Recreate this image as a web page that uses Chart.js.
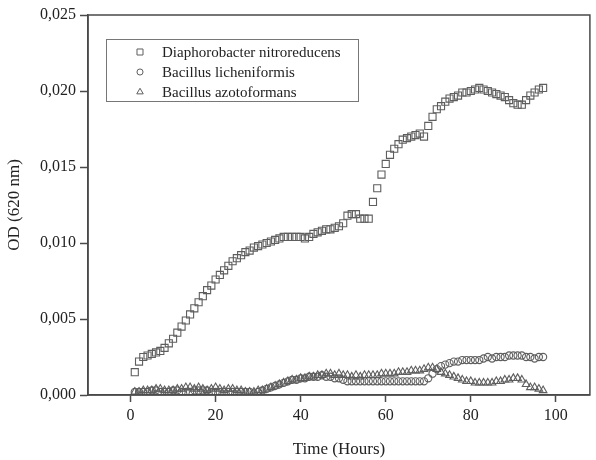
<!DOCTYPE html>
<html>
<head>
<meta charset="utf-8">
<title>OD growth curves</title>
<script src="https://cdn.jsdelivr.net/npm/chart.js@4.4.0/dist/chart.umd.min.js"></script>
<style>
  html, body { margin: 0; padding: 0; background: #fff; }
  #wrap { width: 596px; height: 460px; position: relative; }
</style>
</head>
<body>
<div id="wrap"><canvas id="growthChart" width="596" height="460"></canvas></div>
<script>
var hours = [1, 2, 3, 4, 5, 6, 7, 8, 9, 10, 11, 12, 13, 14, 15, 16, 17, 18, 19, 20,
  21, 22, 23, 24, 25, 26, 27, 28, 29, 30, 31, 32, 33, 34, 35, 36, 37, 38, 39, 40,
  41, 42, 43, 44, 45, 46, 47, 48, 49, 50, 51, 52, 53, 54, 55, 56, 57, 58, 59, 60,
  61, 62, 63, 64, 65, 66, 67, 68, 69, 70, 71, 72, 73, 74, 75, 76, 77, 78, 79, 80,
  81, 82, 83, 84, 85, 86, 87, 88, 89, 90, 91, 92, 93, 94, 95, 96, 97];

var diaphorobacter = [0.0015, 0.0022, 0.0025, 0.0026, 0.0027, 0.0028, 0.0029, 0.0031, 0.0034, 0.0037,
  0.0041, 0.0045, 0.0049, 0.0053, 0.0057, 0.0061, 0.0065, 0.0069, 0.0072, 0.0076,
  0.0079, 0.0082, 0.0085, 0.0088, 0.0090, 0.0092, 0.0094, 0.0095, 0.0097, 0.0098,
  0.0099, 0.0100, 0.0101, 0.0102, 0.0103, 0.0104, 0.0104, 0.0104, 0.0104, 0.0104,
  0.0103, 0.0104, 0.0106, 0.0107, 0.0108, 0.0109, 0.0109, 0.0110, 0.0111, 0.0113,
  0.0118, 0.0119, 0.0119, 0.0116, 0.0116, 0.0116, 0.0127, 0.0136, 0.0145, 0.0152,
  0.0158, 0.0162, 0.0165, 0.0168, 0.0169, 0.0170, 0.0171, 0.0172, 0.0170, 0.0177,
  0.0183, 0.0188, 0.0190, 0.0193, 0.0195, 0.0196, 0.0197, 0.0199, 0.0199, 0.0200,
  0.0201, 0.0202, 0.0201, 0.0200, 0.0199, 0.0198, 0.0197, 0.0196, 0.0194, 0.0192,
  0.0191, 0.0191, 0.0194, 0.0197, 0.0199, 0.0201, 0.0202];

var licheniformis = [0.0002, 0.0002, 0.0002, 0.0002, 0.0003, 0.0003, 0.0002, 0.0002, 0.0002, 0.0003,
  0.0003, 0.0002, 0.0002, 0.0002, 0.0003, 0.0003, 0.0003, 0.0003, 0.0002, 0.0002,
  0.0002, 0.0002, 0.0002, 0.0002, 0.0002, 0.0002, 0.0002, 0.0002, 0.0001, 0.0002,
  0.0003, 0.0004, 0.0005, 0.0006, 0.0007, 0.0008, 0.0009, 0.0010, 0.0010, 0.0011,
  0.0011, 0.0012, 0.0012, 0.0012, 0.0013, 0.0012, 0.0012, 0.0011, 0.0011, 0.0010,
  0.0009, 0.0009, 0.0009, 0.0009, 0.0009, 0.0009, 0.0009, 0.0009, 0.0009, 0.0009,
  0.0009, 0.0009, 0.0009, 0.0009, 0.0009, 0.0009, 0.0009, 0.0009, 0.0009, 0.0011,
  0.0014, 0.0017, 0.0019, 0.0020, 0.0021, 0.0022, 0.0022, 0.0023, 0.0023, 0.0023,
  0.0023, 0.0023, 0.0024, 0.0025, 0.0024, 0.0025, 0.0025, 0.0025, 0.0026, 0.0026,
  0.0026, 0.0026, 0.0025, 0.0025, 0.0024, 0.0025, 0.0025];

var azotoformans = [0.0002, 0.0002, 0.0003, 0.0003, 0.0003, 0.0004, 0.0004, 0.0003, 0.0003, 0.0003,
  0.0004, 0.0004, 0.0005, 0.0005, 0.0004, 0.0005, 0.0004, 0.0003, 0.0004, 0.0005,
  0.0004, 0.0003, 0.0004, 0.0004, 0.0003, 0.0003, 0.0002, 0.0002, 0.0002, 0.0003,
  0.0003, 0.0004, 0.0005, 0.0006, 0.0007, 0.0008, 0.0009, 0.0010, 0.0010, 0.0011,
  0.0011, 0.0012, 0.0012, 0.0013, 0.0013, 0.0014, 0.0014, 0.0013, 0.0014, 0.0013,
  0.0013, 0.0012, 0.0013, 0.0012, 0.0013, 0.0013, 0.0013, 0.0013, 0.0014, 0.0014,
  0.0014, 0.0014, 0.0015, 0.0015, 0.0015, 0.0016, 0.0016, 0.0016, 0.0017, 0.0018,
  0.0018, 0.0017, 0.0015, 0.0014, 0.0013, 0.0012, 0.0011, 0.0010, 0.0009, 0.0009,
  0.0008, 0.0008, 0.0008, 0.0008, 0.0008, 0.0009, 0.0009, 0.0010, 0.0010, 0.0011,
  0.0011, 0.0010, 0.0007, 0.0005, 0.0005, 0.0004, 0.0003];

var seriesNames = ["Diaphorobacter nitroreducens", "Bacillus licheniformis", "Bacillus azotoformans"];
var xTicks = [0, 20, 40, 60, 80, 100];
var yTicks = [0, 0.005, 0.010, 0.015, 0.020, 0.025];

var serif = "'Liberation Serif', 'DejaVu Serif', serif";
var markerColor = "#5e5e5e";
var axisColor = "#4a4a4a";

function toPoints(values) {
    var pts = [];
    for (var i = 0; i < hours.length; i++) {
        pts.push({ x: hours[i], y: values[i] });
    }
    return pts;
}

// frame round the plot + legend box inside the plot
var framePlugin = {
    id: "frameAndLegend",
    afterDraw: function (chart) {
        var ctx = chart.ctx;
        var a = chart.chartArea;
        ctx.save();
        ctx.strokeStyle = axisColor;
        ctx.lineWidth = 1.5;
        ctx.strokeRect(a.left, a.top, a.right - a.left, a.bottom - a.top);

        // legend
        ctx.strokeStyle = "#777";
        ctx.lineWidth = 1;
        ctx.strokeRect(106.5, 39.5, 252, 62);
        var rows = [52, 72, 92];
        var ds = chart.data.datasets;
        for (var i = 0; i < ds.length; i++) {
            ctx.fillStyle = "rgba(0,0,0,0)";
            ctx.strokeStyle = markerColor;
            ctx.lineWidth = 1;
            Chart.helpers.drawPoint(ctx, {
                pointStyle: ds[i].pointStyle,
                radius: ds[i].pointRadius * 0.85,
                rotation: 0,
                borderWidth: 1
            }, 140, rows[i]);
            ctx.fillStyle = "#222";
            ctx.font = "15px " + serif;
            ctx.textBaseline = "middle";
            ctx.textAlign = "left";
            ctx.fillText(ds[i].label, 162, rows[i] + 1);
        }
        ctx.restore();
    }
};

function makeDataset(label, values, style, radius) {
    return {
        label: label,
        data: toPoints(values),
        pointStyle: style,
        pointRadius: radius,
        pointBorderWidth: 1.1,
        pointBorderColor: markerColor,
        pointBackgroundColor: "rgba(255,255,255,0)",
        showLine: false
    };
}

var ctx = document.getElementById("growthChart").getContext("2d");
var chart = new Chart(ctx, {
    type: "scatter",
    data: {
        datasets: [
            makeDataset(seriesNames[0], diaphorobacter, "rect", 5),
            makeDataset(seriesNames[1], licheniformis, "circle", 3.6),
            makeDataset(seriesNames[2], azotoformans, "triangle", 4.4)
        ]
    },
    plugins: [framePlugin],
    options: {
        responsive: false,
        animation: false,
        layout: { padding: { top: 15, right: 2, left: 0, bottom: 0 } },
        plugins: {
            legend: { display: false },
            tooltip: { enabled: false }
        },
        scales: {
            x: {
                type: "linear",
                min: -10,
                max: 108,
                afterBuildTicks: function (axis) {
                    axis.ticks = xTicks.map(function (v) { return { value: v }; });
                },
                afterFit: function (axis) { axis.height = 65; },
                grid: {
                    drawOnChartArea: false,
                    drawTicks: true,
                    tickLength: 7,
                    tickWidth: 1.5,
                    tickColor: axisColor
                },
                border: { color: axisColor, width: 1.5 },
                ticks: {
                    color: "#222",
                    font: { family: serif, size: 16 },
                    padding: 4,
                    maxRotation: 0,
                    callback: function (v) { return v; }
                },
                title: {
                    display: true,
                    text: "Time (Hours)",
                    color: "#222",
                    font: { family: serif, size: 17 },
                    padding: { top: 0, bottom: 0 }
                }
            },
            y: {
                type: "linear",
                min: 0,
                max: 0.025,
                afterBuildTicks: function (axis) {
                    axis.ticks = yTicks.map(function (v) { return { value: v }; });
                },
                afterFit: function (axis) { axis.width = 88; },
                grid: {
                    drawOnChartArea: false,
                    drawTicks: true,
                    tickLength: 8,
                    tickWidth: 1.5,
                    tickColor: axisColor
                },
                border: { color: axisColor, width: 1.5 },
                ticks: {
                    color: "#222",
                    font: { family: serif, size: 16 },
                    padding: 4,
                    callback: function (v) { return v.toFixed(3).replace(".", ","); }
                },
                title: {
                    display: true,
                    text: "OD (620 nm)",
                    color: "#222",
                    font: { family: serif, size: 17 },
                    padding: { top: 4, bottom: 0 }
                }
            }
        }
    }
});
</script>
</body>
</html>
